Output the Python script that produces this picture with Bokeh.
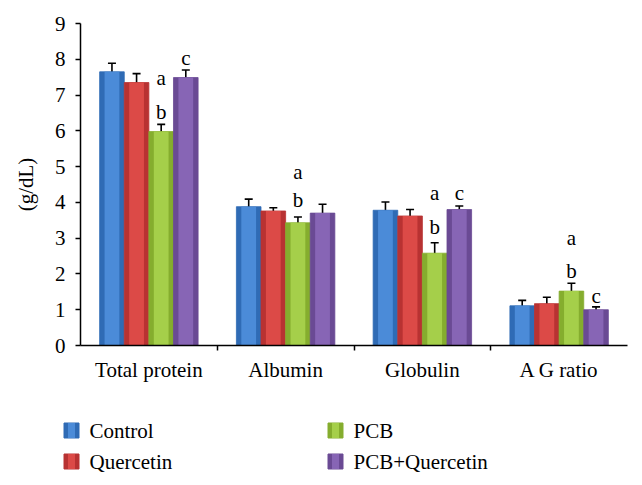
from bokeh.plotting import figure
from bokeh.layouts import column, row
from bokeh.models import Range1d, FixedTicker, Whisker, TeeHead, ColumnDataSource
from bokeh.core.properties import value
from bokeh.embed import file_html
from bokeh.resources import INLINE

categories = ["Total protein", "Albumin", "Globulin", "A G ratio"]
groups = ["Control", "Quercetin", "PCB", "PCB+Quercetin"]
control = [7.65, 3.88, 3.78, 1.11]
control_err = [0.24, 0.21, 0.23, 0.15]
quercetin = [7.35, 3.76, 3.62, 1.17]
quercetin_err = [0.25, 0.09, 0.18, 0.18]
pcb = [5.98, 3.43, 2.58, 1.52]
pcb_err = [0.2, 0.16, 0.29, 0.22]
pcb_q = [7.49, 3.70, 3.80, 1.00]
pcb_q_err = [0.21, 0.25, 0.1, 0.08]

# significance letters: (category index, group index, y level, letter)
sig_cat = [0, 0, 0, 1, 1, 2, 2, 2, 3, 3, 3]
sig_grp = [2, 2, 3, 2, 2, 2, 2, 3, 2, 2, 3]
sig_y = [7.47, 6.52, 8.03, 4.84, 4.06, 4.27, 3.30, 4.27, 3.00, 2.08, 1.39]
sig_txt = ["a", "b", "c", "a", "b", "a", "b", "c", "a", "b", "c"]

series = [control, quercetin, pcb, pcb_q]
errors = [control_err, quercetin_err, pcb_err, pcb_q_err]
edge_colors = ["#2f6bb5", "#b83232", "#85ad2e", "#6a4a94"]
mid_colors = ["#4b8bd8", "#dc4a47", "#a5cf4a", "#8765b5"]
offsets = [-0.27, -0.09, 0.09, 0.27]
bw = 0.18

FONT = "Liberation Serif"
FS = "21px"

p = figure(width=642, height=390, output_backend="svg", toolbar_location=None,
           x_range=Range1d(0, 4), y_range=Range1d(0, 9),
           min_border_left=80, min_border_right=15, min_border_top=23, min_border_bottom=45)
p.outline_line_color = None
p.grid.grid_line_color = None

for gi, (vals, errs) in enumerate(zip(series, errors)):
    xs = [ci + 0.5 + offsets[gi] for ci in range(len(categories))]
    src = ColumnDataSource(dict(x=xs, top=vals, up=[v + e for v, e in zip(vals, errs)],
                                lo=[v - e for v, e in zip(vals, errs)]))
    p.vbar(x="x", top="top", width=bw, bottom=0, source=src,
           fill_color=edge_colors[gi], line_color=edge_colors[gi], line_width=0.8)
    p.vbar(x="x", top="top", width=bw * 0.6, bottom=0, source=src,
           fill_color=mid_colors[gi], line_color=None)
    w = Whisker(source=src, base="x", upper="up", lower="lo", dimension="height",
                line_color="black", line_width=1.6,
                upper_head=TeeHead(size=8, line_color="black", line_width=1.6),
                lower_head=TeeHead(size=8, line_color="black", line_width=1.6))
    p.add_layout(w)

lx = [sig_cat[i] + 0.5 + offsets[sig_grp[i]] for i in range(len(sig_txt))]
p.text(x=lx, y=sig_y, text=sig_txt, text_align="center", text_baseline="middle",
       text_font=value(FONT), text_font_size=FS, text_color="black")

# axes
xa = p.xaxis[0]
xa.ticker = FixedTicker(ticks=[i + 0.5 for i in range(len(categories))],
                        minor_ticks=[1, 2, 3])
xa.major_label_overrides = {i + 0.5: c for i, c in enumerate(categories)}
xa.major_tick_out = 0
xa.major_tick_in = 0
xa.minor_tick_out = 5
xa.minor_tick_in = 0
xa.minor_tick_line_color = "black"
xa.axis_line_color = "black"
xa.axis_line_width = 1.5
xa.minor_tick_line_width = 1.5
xa.major_label_standoff = 7
xa.major_label_text_font = FONT
xa.major_label_text_font_size = FS
xa.major_label_text_color = "black"

ya = p.yaxis[0]
ya.ticker = FixedTicker(ticks=list(range(10)))
ya.major_tick_out = 5
ya.major_tick_in = 0
ya.minor_tick_line_color = None
ya.axis_line_color = "black"
ya.axis_line_width = 1.5
ya.major_tick_line_width = 1.5
ya.major_tick_line_color = "black"
ya.major_label_standoff = 10
ya.major_label_text_font = FONT
ya.major_label_text_font_size = FS
ya.major_label_text_color = "black"
ya.axis_label = "(g/dL)"
ya.axis_label_text_font = FONT
ya.axis_label_text_font_size = FS
ya.axis_label_text_font_style = "normal"
ya.axis_label_text_color = "black"
ya.axis_label_standoff = 14

# legend panel below the chart (pixel-unit ranges, two columns of two rows)
LW, LH = 642, 95
lg = figure(width=LW, height=LH, output_backend="svg", toolbar_location=None,
            x_range=Range1d(0, LW), y_range=Range1d(0, LH),
            x_axis_location=None, y_axis_location=None,
            min_border_left=0, min_border_right=0, min_border_top=0, min_border_bottom=0)
lg.outline_line_color = None
lg.grid.grid_line_color = None
col = [i // 2 for i in range(len(groups))]
rw = [i % 2 for i in range(len(groups))]
sq_x = [71 + 264 * c for c in col]
sq_y = [LH - 40 - 31 * r for r in rw]
tx_x = [89 + 264 * c for c in col]
lg.rect(x=sq_x, y=sq_y, width=15, height=15, fill_color=edge_colors,
        line_color=edge_colors)
lg.rect(x=sq_x, y=sq_y, width=7, height=15, fill_color=mid_colors, line_color=None)
lg.text(x=tx_x, y=sq_y, text=groups, text_align="left", text_baseline="middle",
        text_font=value(FONT), text_font_size=FS, text_color="black")

open("out.html", "w").write(file_html(column(p, row(lg)), INLINE))
